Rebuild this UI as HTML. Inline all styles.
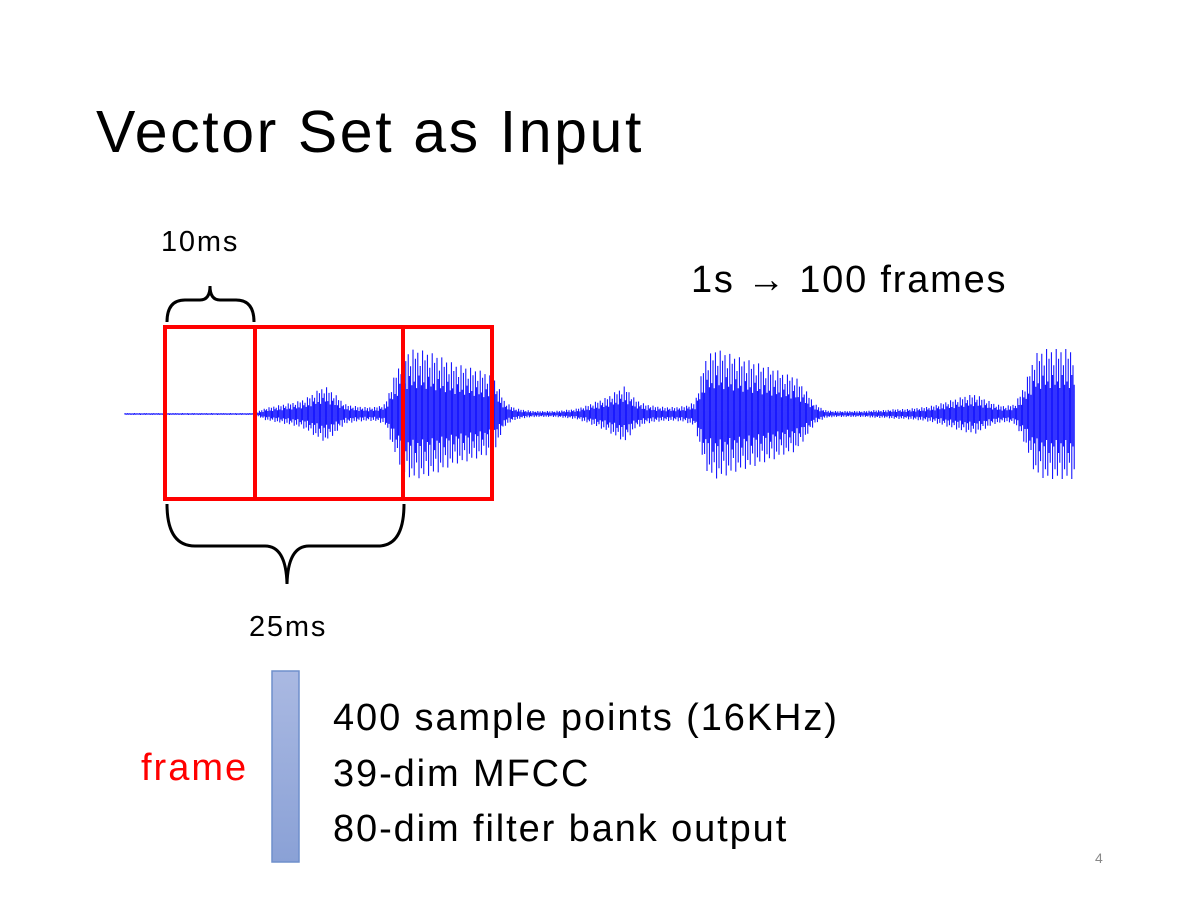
<!DOCTYPE html>
<html><head><meta charset="utf-8"><style>
body{margin:0;background:#fff}
#slide{position:relative;width:1200px;height:900px;overflow:hidden;font-family:"Liberation Sans",sans-serif;color:#000}
.t{position:absolute;white-space:nowrap;line-height:1}
</style></head><body>
<div id="slide">
<div class="t" style="left:96px;top:103px;font-size:59px;letter-spacing:2.6px">Vector Set as Input</div>
<div class="t" style="left:161px;top:228px;font-size:29px;letter-spacing:1.8px">10ms</div>
<div class="t" style="left:691px;top:261px;font-size:38px;letter-spacing:1.8px">1s → 100 frames</div>
<div class="t" style="left:249px;top:613px;font-size:29px;letter-spacing:1.8px">25ms</div>
<div class="t" style="left:141px;top:749px;font-size:38px;color:#f00;letter-spacing:2px">frame</div>
<div class="t" style="left:333px;top:699px;font-size:38px;letter-spacing:1.9px">400 sample points (16KHz)</div>
<div class="t" style="left:333px;top:755px;font-size:38px;letter-spacing:1.9px">39-dim MFCC</div>
<div class="t" style="left:333px;top:810px;font-size:38px;letter-spacing:1.9px">80-dim filter bank output</div>
<div class="t" style="left:1095px;top:851px;font-size:14px;color:#888">4</div>
<svg id="art" width="1200" height="900" style="position:absolute;left:0;top:0">
<defs><linearGradient id="fg" x1="0" y1="0" x2="0" y2="1"><stop offset="0" stop-color="#aab9e2"/><stop offset="1" stop-color="#8aa1d6"/></linearGradient></defs>
<g id="wave"></g>
<g fill="none" stroke="#f00" stroke-width="4">
<rect x="165" y="327" width="327" height="172"/>
<line x1="255" y1="327" x2="255" y2="499"/>
<line x1="403" y1="327" x2="403" y2="499"/>
</g>
<path fill="none" stroke="#000" stroke-width="3" d="M167 322 Q167 300 185 300 L200 300 Q210 300 210 286 Q210 300 220 300 L236 300 Q254 300 254 322"/>
<path fill="none" stroke="#000" stroke-width="3" d="M167 504 Q167 546 195 546 L265 546 Q286 546 287 584 Q288 546 309 546 L378 546 Q404 546 404 504"/>
<rect x="272" y="671" width="27" height="191" fill="url(#fg)" stroke="#6f8fcc" stroke-width="1.5"/>
</svg>
</div>
<script>
// envelope half-heights (px) every 10px starting at x=125
const envX0 = 125;
const envelope = [1,1,1,1,1,1,1,1,1,1,1,1,1,1,
6,8,10,12,15,22,28,20,10,8,7,7,10,40,62,65,63,60,55,50,48,45,42,35,12,6,4,3,3,3,4,5,8,12,16,22,28,15,10,8,7,7,8,12,55,65,62,58,55,52,48,45,40,38,25,10,4,3,3,3,3,4,4,5,5,6,7,9,12,15,18,20,15,10,8,10,30,60,65,65,65,65];
const spikePattern = [1,0.5,0.85,0.4,0.95,0.6,0.75,0.45];
const cy = 414;
const g = document.getElementById('wave');
const ns = 'http://www.w3.org/2000/svg';
function envAt(x){
  const f = (x - envX0) / 10;
  const i = Math.max(0, Math.min(envelope.length - 2, Math.floor(f)));
  const t = Math.max(0, Math.min(1, f - i));
  return envelope[i] * (1 - t) + envelope[i + 1] * t;
}
const xEnd = Math.min(1077, envX0 + (envelope.length - 1) * 10);
let d = '';
let k = 0;
for (let x = envX0; x <= xEnd; x += 1.2) {
  const a = envAt(x);
  const s = spikePattern[k % spikePattern.length];
  const up = Math.max(0.6, a * s);
  const dn = Math.max(0.6, a * spikePattern[(k + 3) % spikePattern.length]);
  d += 'M' + x.toFixed(1) + ' ' + (cy - up).toFixed(1) + 'V' + (cy + dn).toFixed(1);
  k++;
}
const p = document.createElementNS(ns, 'path');
p.setAttribute('d', d);
p.setAttribute('stroke', '#0000ff');
p.setAttribute('stroke-width', '1');
p.setAttribute('fill', 'none');


g.appendChild(p);
</script>
</body></html>
